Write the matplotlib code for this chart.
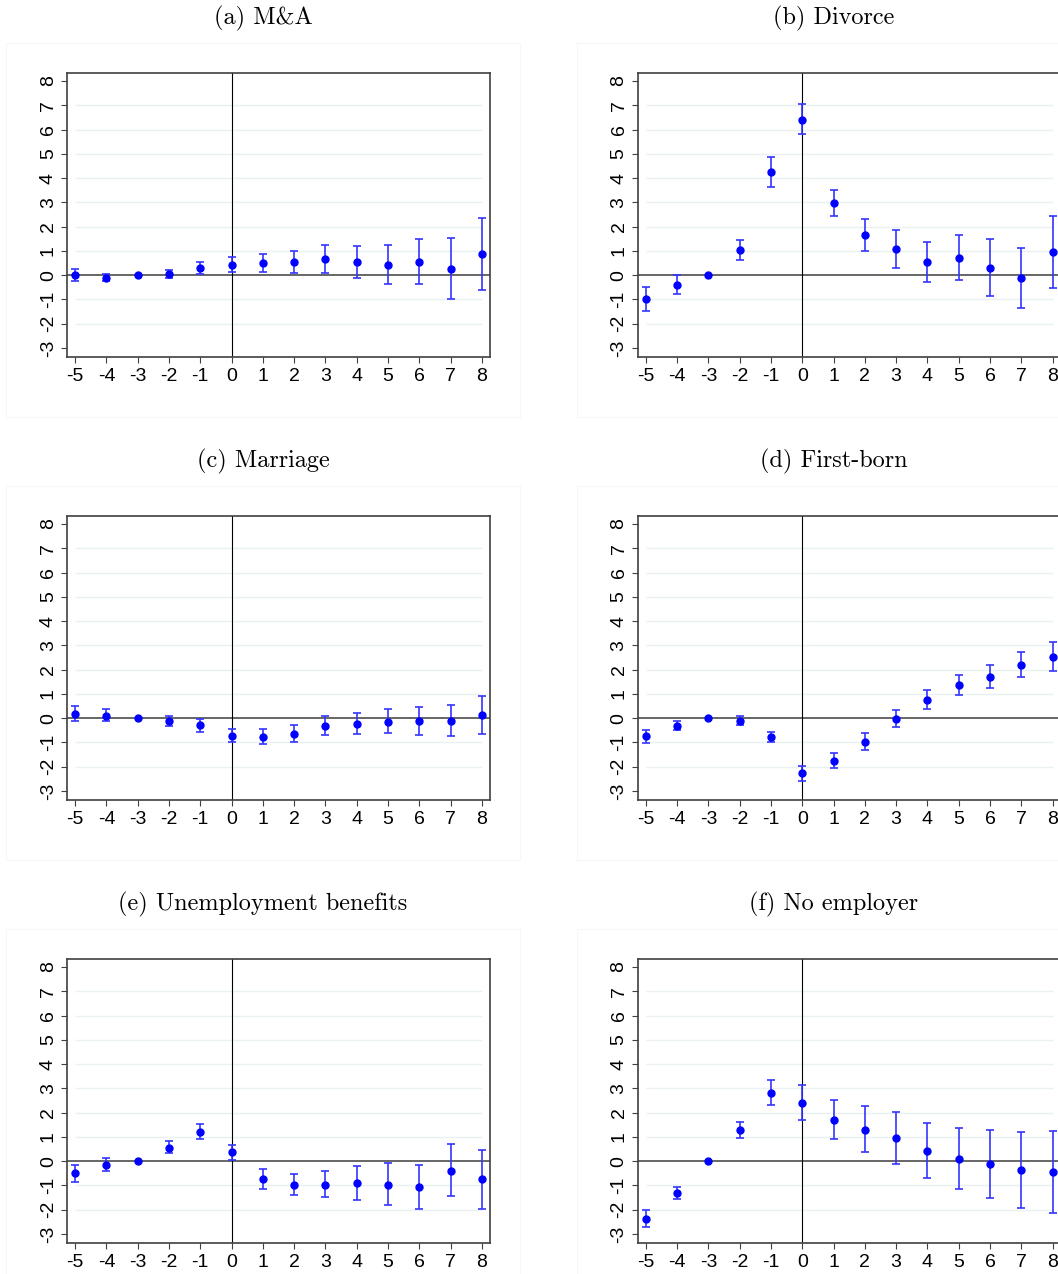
import numpy as np
import matplotlib
matplotlib.use("Agg")
import matplotlib.pyplot as plt
from matplotlib.patches import Rectangle

# Event time (years relative to event)
years = [-5, -4, -3, -2, -1, 0, 1, 2, 3, 4, 5, 6, 7, 8]

titles = ["(a) M&A", "(b) Divorce", "(c) Marriage",
          "(d) First-born", "(e) Unemployment benefits", "(f) No employer"]

# point estimates and 95% CI bounds
ma_est = [0.0, -0.11, 0.0, 0.05, 0.30, 0.42, 0.52, 0.55, 0.67, 0.56, 0.42, 0.55, 0.25, 0.86]
ma_hi = [0.27, 0.03, 0.0, 0.22, 0.55, 0.75, 0.89, 1.01, 1.23, 1.22, 1.24, 1.48, 1.52, 2.35]
ma_lo = [-0.25, -0.25, 0.0, -0.10, 0.04, 0.14, 0.14, 0.08, 0.11, -0.10, -0.37, -0.36, -1.00, -0.60]

div_est = [-0.99, -0.41, 0.0, 1.04, 4.25, 6.41, 2.99, 1.64, 1.08, 0.55, 0.71, 0.30, -0.12, 0.95]
div_hi = [-0.49, 0.0, 0.0, 1.47, 4.86, 7.05, 3.53, 2.30, 1.88, 1.38, 1.67, 1.48, 1.14, 2.42]
div_lo = [-1.48, -0.79, 0.0, 0.64, 3.64, 5.81, 2.45, 1.00, 0.30, -0.27, -0.21, -0.85, -1.37, -0.52]

mar_est = [0.19, 0.11, 0.0, -0.10, -0.30, -0.74, -0.77, -0.64, -0.31, -0.22, -0.14, -0.11, -0.10, 0.12]
mar_hi = [0.51, 0.37, 0.0, 0.11, -0.03, -0.45, -0.44, -0.27, 0.10, 0.23, 0.36, 0.47, 0.55, 0.93]
mar_lo = [-0.11, -0.12, 0.0, -0.31, -0.56, -1.00, -1.07, -0.98, -0.71, -0.66, -0.63, -0.68, -0.75, -0.67]

fb_est = [-0.75, -0.31, 0.0, -0.10, -0.79, -2.27, -1.75, -0.96, -0.03, 0.77, 1.35, 1.71, 2.19, 2.53]
fb_hi = [-0.48, -0.10, 0.0, 0.08, -0.57, -1.96, -1.44, -0.63, 0.34, 1.16, 1.78, 2.19, 2.71, 3.13]
fb_lo = [-1.01, -0.49, 0.0, -0.30, -1.00, -2.59, -2.04, -1.29, -0.37, 0.37, 0.94, 1.26, 1.68, 1.94]

ub_est = [-0.49, -0.15, 0.0, 0.56, 1.22, 0.36, -0.74, -0.99, -0.96, -0.89, -0.96, -1.05, -0.40, -0.75]
ub_hi = [-0.14, 0.12, 0.0, 0.84, 1.53, 0.68, -0.34, -0.53, -0.40, -0.18, -0.08, -0.14, 0.70, 0.47]
ub_lo = [-0.85, -0.42, 0.0, 0.32, 0.93, 0.04, -1.14, -1.41, -1.49, -1.58, -1.79, -1.96, -1.45, -1.96]

ne_est = [-2.37, -1.33, 0.0, 1.29, 2.81, 2.40, 1.71, 1.30, 0.95, 0.42, 0.11, -0.12, -0.36, -0.45]
ne_hi = [-1.99, -1.07, 0.0, 1.62, 3.33, 3.14, 2.52, 2.26, 2.01, 1.59, 1.38, 1.29, 1.22, 1.25]
ne_lo = [-2.73, -1.56, 0.0, 0.97, 2.30, 1.68, 0.93, 0.38, -0.11, -0.71, -1.15, -1.52, -1.92, -2.12]

panels = [(ma_est, ma_lo, ma_hi), (div_est, div_lo, div_hi),
          (mar_est, mar_lo, mar_hi), (fb_est, fb_lo, fb_hi),
          (ub_est, ub_lo, ub_hi), (ne_est, ne_lo, ne_hi)]

yticks = list(range(-3, 9))
grid_y = [-2, -1, 1, 2, 3, 4, 5, 6, 7]

W, H = 1058, 1274
fig = plt.figure(figsize=(W / 100, H / 100), dpi=100)

ax_w, ax_h = 423, 284
col_off = 570.7
row_off = 443

for i, (est, lo, hi) in enumerate(panels):
    r, c = divmod(i, 2)
    left = 67 + c * col_off
    top = 73 + r * row_off

    # faint stata graph region outline
    gl, gt = 6 + c * col_off, 43 + r * row_off
    fig.patches.append(Rectangle((gl / W, 1 - (gt + 374) / H), 514 / W, 374 / H,
                                 transform=fig.transFigure, fill=False,
                                 edgecolor="#f7f7f7", linewidth=0.8))

    ax = fig.add_axes([left / W, 1 - (top + ax_h) / H, ax_w / W, ax_h / H])

    ax.hlines(grid_y, -5, 8, color="#e9f1f2", linewidth=1.0, zorder=1)
    ax.axhline(0, color="#4d4d4d", linewidth=1.2, zorder=2)
    ax.axvline(0, color="black", linewidth=0.8, zorder=2)

    est = np.array(est)
    lo = np.array(lo)
    hi = np.array(hi)
    x = np.array(years)
    m = hi > lo
    ax.errorbar(x[m], est[m], yerr=[est[m] - lo[m], hi[m] - est[m]], fmt="none",
                ecolor="#3535ff", elinewidth=1.2, capsize=2.7, capthick=1.2, zorder=3)
    ax.plot(x, est, "o", color="#0000ff", markersize=5, zorder=4)

    ax.set_xlim(-5.26, 8.26)
    ax.set_ylim(-3.37, 8.33)
    ax.set_xticks(years)
    ax.set_xticklabels([str(v) for v in years])
    ax.set_yticks(yticks)
    ax.set_yticklabels([str(v) for v in yticks], rotation=90, va="center")

    for s in ax.spines.values():
        s.set_color("#404040")
        s.set_linewidth(1.2)
    ax.tick_params(axis="both", direction="out", length=4.3, width=0.8,
                   color="#404040", labelsize=14, labelcolor="black")
    ax.tick_params(axis="x", pad=3.5)
    ax.tick_params(axis="y", pad=3)
    for lab in ax.get_xticklabels() + ax.get_yticklabels():
        lab.set_family("Liberation Sans")

    fig.text((263 + c * col_off) / W, 1 - (18 + r * row_off) / H, titles[i],
             ha="center", va="center", fontsize=17.5, family="cmr10")

fig.savefig("out.png", dpi=100)
